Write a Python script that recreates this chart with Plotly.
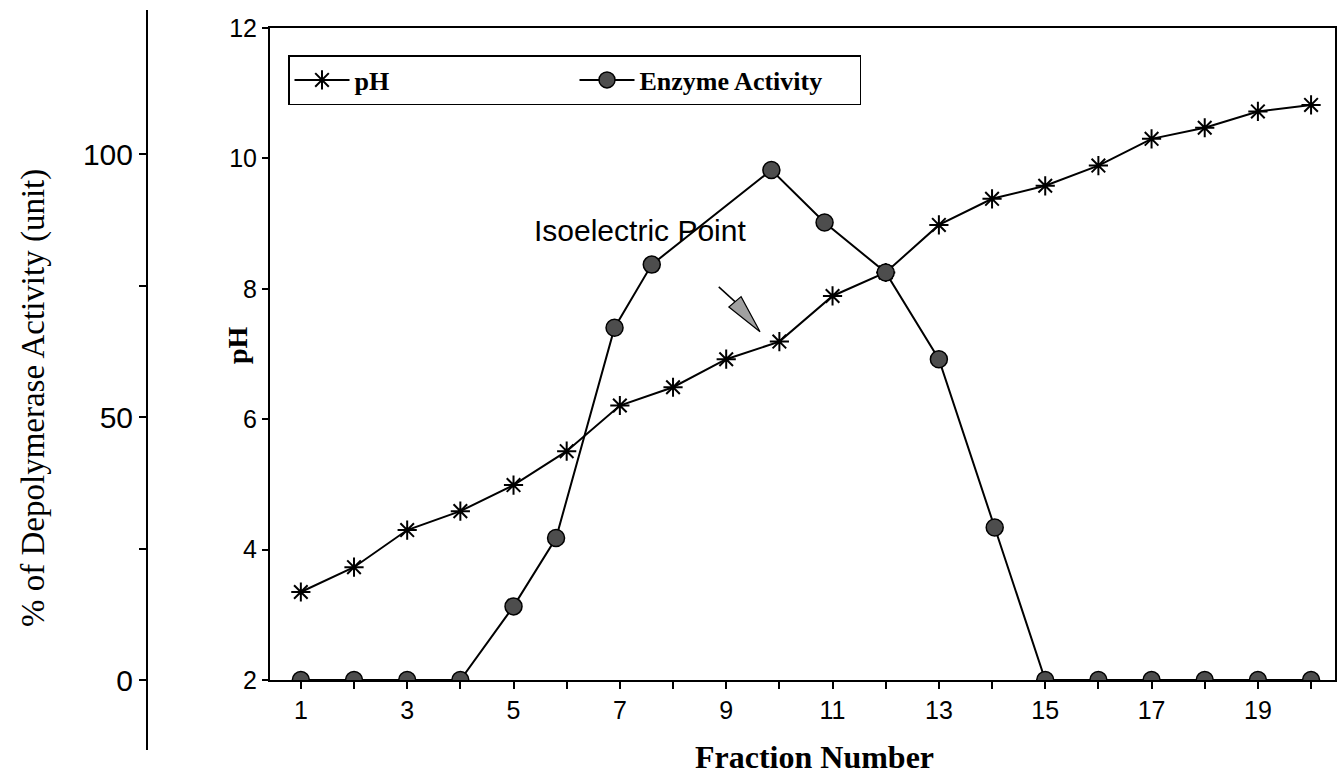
import plotly.graph_objects as go

# Fraction numbers and measured pH of each fraction
ph_fraction = list(range(1, 21))
ph_values = [3.35, 3.73, 4.30, 4.59, 4.99, 5.51, 6.21, 6.49, 6.92, 7.19,
             7.89, 8.25, 8.98, 9.38, 9.58, 9.89, 10.30, 10.47, 10.72, 10.82]

# Depolymerase activity (% units) along the fractions
enzyme_fraction = [1, 2, 3, 4, 5, 5.8, 6.9, 7.6, 9.85, 10.85, 12, 13, 14.05,
                   15, 16, 17, 18, 19, 20]
enzyme_values = [0, 0, 0, 0, 14, 27, 67, 79, 97, 87, 77.5, 61, 29,
                 0, 0, 0, 0, 0, 0]

x_ticks = list(range(1, 21))
x_labels = [str(v) if v % 2 == 1 else "" for v in x_ticks]
ph_ticks = [2, 4, 6, 8, 10, 12]
activity_ticks = [0, 25, 50, 75, 100]
activity_labels = ["0", "", "50", "", "100"]

W, H = 1344, 778
ML, MR, MT, MB = 0, 9, 28, 98
PW = W - ML - MR
PH_ = H - MT - MB
SANS = "Liberation Sans, Arial, sans-serif"
SERIF = "Liberation Serif, Times New Roman, serif"


def px_x(p):
    return (p - ML) / PW


def px_y(p):
    return (H - MB - p) / PH_


fig = go.Figure()

fig.add_trace(go.Scatter(
    x=ph_fraction, y=ph_values, name="pH", mode="lines+markers",
    line=dict(color="black", width=2),
    marker=dict(symbol="asterisk-open", size=16,
                line=dict(color="black", width=2)),
    yaxis="y",
))

fig.add_trace(go.Scatter(
    x=enzyme_fraction, y=enzyme_values, name="Enzyme Activity",
    mode="lines+markers",
    line=dict(color="black", width=2),
    marker=dict(symbol="circle", size=17, color="#4d4d4d",
                line=dict(color="black", width=1.5)),
    yaxis="y2",
))

# Isoelectric point pointer: shaft and shaded head
fig.add_shape(type="line", xref="x", yref="y",
              x0=8.86, y0=8.03, x1=9.17, y1=7.80,
              line=dict(color="black", width=1.5))
fig.add_shape(type="path", xref="x", yref="y",
              path="M 9.05 7.72 L 9.636 7.34 L 9.28 7.88 Z",
              fillcolor="#a0a0a0", line=dict(color="black", width=1.2))

# Free-standing activity axis line
fig.add_shape(type="line", xref="paper", yref="paper",
              x0=px_x(147), x1=px_x(147), y0=px_y(750), y1=px_y(10),
              line=dict(color="black", width=2))

fig.add_annotation(x=7.38, y=8.9, xref="x", yref="y",
                   text="Isoelectric Point", showarrow=False,
                   xanchor="center", yanchor="middle",
                   font=dict(family=SANS, size=30, color="black"))

fig.add_annotation(x=px_x(237), y=px_y(345), xref="paper", yref="paper",
                   text="<b>pH</b>", textangle=-90, showarrow=False,
                   xanchor="center", yanchor="middle",
                   font=dict(family=SERIF, size=28, color="black"))

fig.add_annotation(x=px_x(814), y=px_y(757), xref="paper", yref="paper",
                   text="<b>Fraction Number</b>", showarrow=False,
                   xanchor="center", yanchor="middle",
                   font=dict(family=SERIF, size=32, color="black"))

fig.add_annotation(x=px_x(33), y=px_y(398), xref="paper", yref="paper",
                   text="% of Depolymerase Activity (unit)", textangle=-90,
                   showarrow=False, xanchor="center", yanchor="middle",
                   font=dict(family=SERIF, size=33, color="black"))

fig.update_layout(
    width=W, height=H,
    margin=dict(l=ML, r=MR, t=MT, b=MB),
    paper_bgcolor="white", plot_bgcolor="white",
    showlegend=True,
    legend=dict(
        orientation="h", x=px_x(288), y=px_y(55),
        xanchor="left", yanchor="top",
        bordercolor="black", borderwidth=1.5, bgcolor="white",
        font=dict(family=SERIF, size=26, color="black", weight="bold"),
        entrywidth=215, itemwidth=55,
    ),
    xaxis=dict(
        domain=[px_x(270), 1], range=[0.42, 20.45],
        tickvals=x_ticks, ticktext=x_labels,
        ticks="outside", ticklen=7, tickwidth=1.5, tickcolor="black",
        showline=True, linecolor="black", linewidth=2, mirror=True,
        showgrid=False, zeroline=False,
        tickfont=dict(family=SANS, size=25, color="black"),
    ),
    yaxis=dict(
        range=[2, 12], tickvals=ph_ticks,
        ticks="outside", ticklen=6, tickwidth=1.5, tickcolor="black",
        showline=True, linecolor="black", linewidth=2, mirror=True,
        showgrid=False, zeroline=False,
        tickfont=dict(family=SANS, size=25, color="black"),
    ),
    yaxis2=dict(
        overlaying="y", anchor="free", position=px_x(147), side="left",
        range=[0, 124], tickvals=activity_ticks, ticktext=activity_labels,
        ticks="outside", ticklen=8, tickwidth=1.5, tickcolor="black",
        showline=False, showgrid=False, zeroline=False,
        tickfont=dict(family=SANS, size=30, color="black"),
    ),
)

fig.write_html("out.html")
